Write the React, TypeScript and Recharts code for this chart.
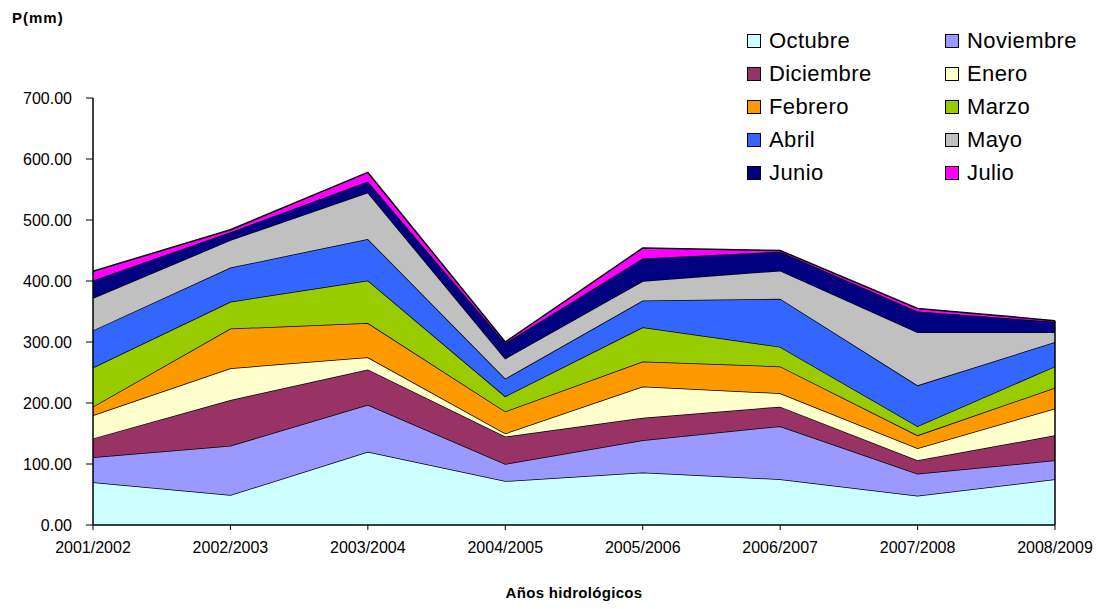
import { AreaChart, Area, XAxis, YAxis, ReferenceLine } from 'recharts'

const years = ['2001/2002', '2002/2003', '2003/2004', '2004/2005', '2005/2006', '2006/2007', '2007/2008', '2008/2009']

const months = ['Octubre', 'Noviembre', 'Diciembre', 'Enero', 'Febrero', 'Marzo', 'Abril', 'Mayo', 'Junio', 'Julio']

const octubre = [70, 49, 120, 72, 86, 75, 48, 75]
const noviembre = [41, 81, 77, 28, 53, 87, 36, 31]
const diciembre = [31, 75, 58, 45, 37, 32, 22, 41]
const enero = [38, 52, 20, 5, 51, 22, 20, 44]
const febrero = [14, 65, 56, 36, 41, 44, 21, 34]
const marzo = [64, 44, 70, 25, 56, 32, 15, 35]
const abril = [61, 56, 68, 29, 44, 79, 67, 40]
const mayo = [53, 45, 76, 33, 32, 46, 87, 16]
const junio = [29, 13, 18, 25, 37, 31, 34, 17]
const julio = [15, 4, 15, 2, 17, 2, 5, 2]

const yTicks = [0, 100, 200, 300, 400, 500, 600, 700]

const COLORS = ['#ccffff', '#9999ff', '#993366', '#ffffcc', '#ff9900', '#99cc00', '#3366ff', '#c0c0c0', '#000080', '#ff00ff']

const series = [octubre, noviembre, diciembre, enero, febrero, marzo, abril, mayo, junio, julio]

const data = years.map((year, i) => {
  const row: Record<string, string | number> = { year }
  months.forEach((m, k) => {
    row[m] = series[k][i]
  })
  return row
})

const lastTotal = series.reduce((sum, s) => sum + s[s.length - 1], 0)

const FONT = '"Liberation Sans", Arial, sans-serif'

// legend drawn as plain html so it doesn't eat into the plot area
function LegendBox() {
  return (
    <div style={{ position: 'absolute', left: 747, top: 27, width: 356, height: 170 }}>
      {months.map((m, k) => {
        const col = k % 2
        const row = Math.floor(k / 2)
        return (
          <div
            key={m}
            style={{
              position: 'absolute',
              left: col * 198,
              top: row * 33,
              display: 'flex',
              alignItems: 'center',
              fontSize: 22,
              letterSpacing: 0.4,
              lineHeight: '28px',
              color: '#000',
              whiteSpace: 'nowrap',
            }}
          >
            <span
              style={{
                display: 'inline-block',
                width: 12,
                height: 12,
                background: COLORS[k],
                border: '1px solid #000',
                marginRight: 8,
              }}
            />
            {m}
          </div>
        )
      })}
    </div>
  )
}

export default function App() {
  return (
    <div style={{ position: 'absolute', left: 0, top: 0, width: 1103, height: 609, background: '#fff', fontFamily: FONT }}>
      <AreaChart
        width={1103}
        height={609}
        data={data}
        margin={{ top: 98, right: 48, bottom: 54, left: 0 }}
      >
        <XAxis
          dataKey="year"
          height={30}
          tick={{ fill: '#000', fontSize: 16, fontFamily: FONT }}
          tickSize={5}
          tickMargin={12}
          axisLine={{ stroke: '#000', strokeWidth: 1.5 }}
          tickLine={{ stroke: '#000' }}
          interval={0}
        />
        <YAxis
          width={93}
          domain={[0, 700]}
          ticks={yTicks}
          tickFormatter={(v: number) => v.toFixed(2)}
          tick={{ fill: '#000', fontSize: 16, fontFamily: FONT }}
          tickSize={7}
          tickMargin={14}
          axisLine={{ stroke: '#000', strokeWidth: 1.5 }}
          tickLine={{ stroke: '#000' }}
        />
        {months.map((m, k) => (
          <Area
            key={m}
            type="linear"
            dataKey={m}
            stackId="1"
            stroke="#000"
            strokeWidth={1.5}
            fill={COLORS[k]}
            fillOpacity={1}
            isAnimationActive={false}
            dot={false}
            activeDot={false}
          />
        ))}
        <ReferenceLine
          segment={[
            { x: years[years.length - 1], y: 0 },
            { x: years[years.length - 1], y: lastTotal },
          ]}
          stroke="#000"
          strokeWidth={1.5}
        />
      </AreaChart>
      <LegendBox />
      <div style={{ position: 'absolute', left: 12, top: 9, fontSize: 15, fontWeight: 'bold', letterSpacing: 1 }}>P(mm)</div>
      <div style={{ position: 'absolute', left: 93, width: 962, top: 584, textAlign: 'center', fontSize: 15, fontWeight: 'bold', letterSpacing: 0.3 }}>
        Años hidrológicos
      </div>
    </div>
  )
}
